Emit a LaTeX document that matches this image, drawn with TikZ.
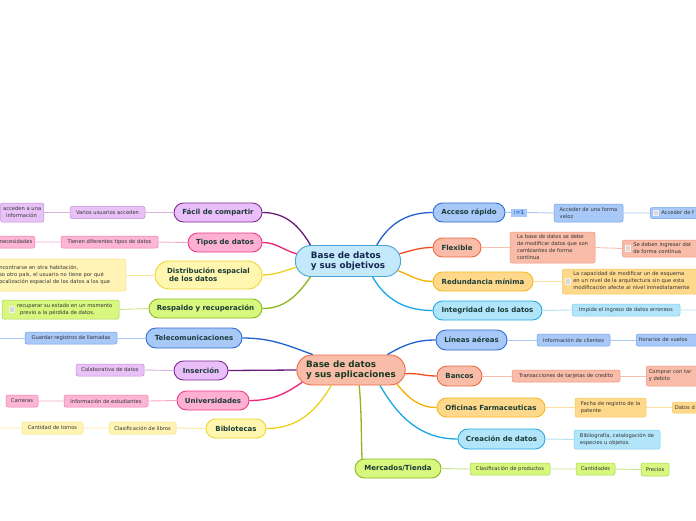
\documentclass[tikz,border=0pt]{standalone}
\usepackage{fontspec}
\setmainfont{DejaVu Sans}
\usepackage{tikz}
\usetikzlibrary{shapes.misc,positioning}
% colour families: F fill, B border, L main line, HF/HB/HL leaves
\definecolor{lilaF}{HTML}{E9BEF9}\definecolor{lilaB}{HTML}{7B2D8E}\definecolor{lilaL}{HTML}{6A1B7A}
\definecolor{lilaHF}{HTML}{E8C2F7}\definecolor{lilaHB}{HTML}{C48AD9}\definecolor{lilaHL}{HTML}{D6B2E2}
\definecolor{rosaF}{HTML}{FDB0D2}\definecolor{rosaB}{HTML}{EE3B8C}\definecolor{rosaL}{HTML}{F0207A}
\definecolor{rosaHF}{HTML}{FCB6D4}\definecolor{rosaHB}{HTML}{F07CB0}\definecolor{rosaHL}{HTML}{F8AACB}
\definecolor{amarF}{HTML}{FFF6B0}\definecolor{amarB}{HTML}{F0D52E}\definecolor{amarL}{HTML}{EDD11C}
\definecolor{amarHF}{HTML}{FFF4B5}\definecolor{amarHB}{HTML}{F3DE78}\definecolor{amarHL}{HTML}{F7EA9E}
\definecolor{verdeF}{HTML}{D7F77E}\definecolor{verdeB}{HTML}{8CB922}\definecolor{verdeL}{HTML}{8BB61C}
\definecolor{verdeHF}{HTML}{D7F77E}\definecolor{verdeHB}{HTML}{A9D34C}\definecolor{verdeHL}{HTML}{C8E58A}
\definecolor{azulF}{HTML}{A8C9F8}\definecolor{azulB}{HTML}{2E6DD3}\definecolor{azulL}{HTML}{1F62CF}
\definecolor{azulHF}{HTML}{A8C9F8}\definecolor{azulHB}{HTML}{6F9FE8}\definecolor{azulHL}{HTML}{A9C7F3}
\definecolor{salmF}{HTML}{F8BCA8}\definecolor{salmB}{HTML}{EE6A44}\definecolor{salmL}{HTML}{EE4D20}
\definecolor{salmHF}{HTML}{F8BCA8}\definecolor{salmHB}{HTML}{F09478}\definecolor{salmHL}{HTML}{F6C0AE}
\definecolor{naraF}{HTML}{FFD98B}\definecolor{naraB}{HTML}{F5B71A}\definecolor{naraL}{HTML}{F5B000}
\definecolor{naraHF}{HTML}{FFD98B}\definecolor{naraHB}{HTML}{F6C956}\definecolor{naraHL}{HTML}{FDDFA0}
\definecolor{cianF}{HTML}{B2E5FA}\definecolor{cianB}{HTML}{27A9E3}\definecolor{cianL}{HTML}{1AA6E6}
\definecolor{cianHF}{HTML}{B2E5FA}\definecolor{cianHB}{HTML}{7FCCEE}\definecolor{cianHL}{HTML}{B7E2F5}
\definecolor{objF}{HTML}{C3E9FB}\definecolor{objB}{HTML}{4DA3D8}\definecolor{objT}{HTML}{17264F}
\definecolor{aplT}{HTML}{183A22}
\definecolor{ramatexto}{HTML}{1B3B36}
\definecolor{hojatexto}{HTML}{333333}
\definecolor{casborde}{HTML}{F2F2F2}
\definecolor{casfondo}{HTML}{D9D9D9}
\newcommand{\centrofont}{\fontsize{8.8}{10.5}\selectfont\bfseries}
\newcommand{\ramafont}{\fontsize{7}{8}\selectfont\bfseries}
\newcommand{\hojafont}{\fontsize{5.2}{7}\selectfont}
\newcommand{\casilla}{\raisebox{-1.2pt}{\setlength{\fboxsep}{0pt}\setlength{\fboxrule}{0.5pt}\fcolorbox{casborde}{casfondo}{\rule{0pt}{5pt}\rule{5pt}{0pt}}}}
\newcommand{\conicono}[1]{\casilla\hspace{2.5pt}\begin{tabular}{@{}l@{}}#1\end{tabular}}

\begin{document}
\begin{tikzpicture}[
      x=1pt,y=1pt,
      centro/.style={rounded rectangle,draw=objB,line width=0.9pt,font=\centrofont,align=left,minimum height=31pt},
      rama/.style={rounded rectangle,draw=#1B,fill=#1F,line width=0.9pt,minimum height=19pt,inner xsep=3pt,font=\ramafont,text=ramatexto},
      hoja/.style={rectangle,rounded corners=2pt,draw=#1HB,fill=#1HF,line width=0.5pt,inner xsep=2.5pt,inner ysep=1.5pt,minimum height=12pt,font=\hojafont,text=hojatexto,align=left},
      enlace/.style={line width=1.3pt,draw=#1L},
      fino/.style={line width=0.9pt,draw=#1HL}
    ]
    \fill[white] (0,0) rectangle (696,-520);
    \useasboundingbox (0,0) rectangle (696,-520);
    % Draw the two central topics.
    \node[centro,fill=objF,text=objT,minimum width=112pt] (obj) at (348,-261) {Base de datos\\y sus objetivos};
    \node[centro,draw=salmB,fill=salmF,text=aplT,minimum width=115pt,minimum height=30pt] (apl) at (351,-370) {Base de datos\\y sus aplicaciones};
    % Draw the branches of the first topic.
    \node[rama=lila,minimum width=94pt] (fac) at (218,-212.5) {Fácil de compartir};
    \node[rama=rosa,minimum width=80pt] (tip) at (225,-242.5) {Tipos de datos};
    \node[rama=amar,minimum width=113pt,minimum height=28pt,align=left] (dis) at (208.5,-275) {Distribución espacial\\\hspace{2pt}de los datos};
    \node[rama=verde,minimum width=119pt] (res) at (205.5,-308.5) {Respaldo y recuperación};
    \node[rama=azul,minimum width=78pt] (acc) at (469,-212.5) {Acceso rápido};
    \node[rama=salm,minimum width=54pt] (fle) at (457,-247.5) {Flexible};
    \node[rama=nara,minimum width=106pt] (red) at (483,-281.5) {Redundancia mínima};
    \node[rama=cian,minimum width=115pt] (int) at (487.5,-310.5) {Integridad de los datos};
    % Draw the branches of the second topic.
    \node[rama=azul,minimum width=102pt,minimum height=20pt] (tel) at (194,-338) {Telecomunicaciones};
    \node[rama=lila,minimum width=60pt] (ins) at (201,-370.5) {Inserción};
    \node[rama=rosa,minimum width=78pt] (uni) at (213,-400.5) {Universidades};
    \node[rama=amar,minimum width=66pt] (bib) at (236,-428.5) {Biblotecas};
    \node[rama=azul,minimum width=77pt,minimum height=20pt] (lin) at (471.5,-340) {Líneas aéreas};
    \node[rama=salm,minimum width=51pt,minimum height=20pt] (ban) at (459.5,-376) {Bancos};
    \node[rama=nara,minimum width=114pt] (ofi) at (491,-407.5) {Oficinas Farmaceuticas};
    \node[rama=cian,minimum width=93pt,minimum height=20pt] (cre) at (501.5,-439) {Creación de datos};
    \node[rama=verde,minimum width=92pt] (mer) at (398,-468.5) {Mercados/Tienda};
    % Draw the leaves on the left.
    \node[hoja=lila,minimum width=75pt] (fac1) at (107.5,-212.5) {Varios usuarios acceden};
    \node[hoja=lila,anchor=east,minimum height=19pt] (fac2) at (44,-212.5) {acceden a una\\\hspace{3pt}información};
    \node[hoja=rosa,minimum width=97pt] (tip1) at (109.5,-242) {Tienen diferentes tipos de datos};
    \node[hoja=rosa,anchor=east] (tip2) at (35,-242) {necesidades};
    \node[hoja=amar,anchor=east,text width=124pt,minimum height=32pt] (dis1) at (126,-275) {ncontrarse en otra habitación,\\so otro país, el usuario no tiene por qué\\ocalización espacial de los datos a los que};
    \node[hoja=verde,minimum width=117pt,minimum height=19pt] (res1) at (60.5,-309.5) {\conicono{recuperar su estado en un momento\\\hspace{3pt}previo a la pérdida de datos.}};
    \node[hoja=azul,minimum width=92pt] (tel1) at (71,-338) {Guardar registros de llamadas};
    \node[hoja=lila,minimum width=68pt] (ins1) at (110,-370) {Colaborativa de datos};
    \node[hoja=rosa,minimum width=84pt] (uni1) at (106,-401) {Información de estudiantes};
    \node[hoja=rosa,minimum width=32pt] (uni2) at (22,-401) {Carreras};
    \node[hoja=amar,minimum width=67pt] (bib1) at (142.5,-428) {Clasificación de libros};
    \node[hoja=amar,minimum width=61pt] (bib2) at (52.5,-428) {Cantidad de tomos};
    \coordinate (telfin) at (0,-338);
    \coordinate (bibfin) at (0,-428);
    % Draw the leaves on the right.
    \node[rectangle,fill=azulF,text=azulB,font=\fontsize{5.5}{6}\selectfont\bfseries,inner sep=1pt,minimum width=16pt,minimum height=8pt] (acc0) at (519,-212.5) {:=1};
    \node[hoja=azul,minimum width=69pt,minimum height=18pt] (acc1) at (588.5,-213) {Acceder de una forma\\veloz};
    \node[hoja=azul,anchor=west,text width=60pt,minimum height=11pt] (acc2) at (650,-213) {\conicono{Acceder de f}};
    \node[hoja=salm,minimum width=85pt,minimum height=31pt] (fle1) at (552.5,-247.5) {La base de datos se debe\\de modificar datos que son\\cambiantes de forma\\continua};
    \node[hoja=salm,anchor=west,text width=80pt,minimum height=17pt] (fle2) at (622,-248.5) {\conicono{Se deben ingresar dat\\de forma continua}};
    \node[hoja=nara,anchor=west,text width=140pt,minimum height=25pt] (red1) at (562,-281.5) {\conicono{La capacidad de modificar un de esquema\\en un nivel de la arquitectura sin que esta\\modificación afecte al nivel inmediatamente}};
    \node[hoja=cian,minimum width=108pt] (int1) at (626,-310) {Impide el ingreso de datos erroneos};
    \coordinate (intfin) at (696,-310);
    \node[hoja=azul,minimum width=73pt] (lin1) at (573.5,-340) {Información de clientes};
    \node[hoja=azul,anchor=west,text width=62pt] (lin2) at (636,-340) {Horarios de vuelos};
    \node[hoja=salm,minimum width=108pt] (ban1) at (566,-376) {Transacciones de tarjetas de credito};
    \node[hoja=salm,anchor=west,text width=56pt,minimum height=20pt] (ban2) at (646,-376) {Comprar con tar\\y debito};
    \node[hoja=nara,minimum width=71pt,minimum height=19pt] (ofi1) at (610.5,-407.5) {Fecha de registro de la\\patente};
    \node[hoja=nara,anchor=west,text width=28pt,minimum height=11pt] (ofi2) at (672,-407.5) {Datos d};
    \node[hoja=cian,minimum width=86pt,minimum height=19pt] (cre1) at (617,-439.5) {Bibliografía, catalogación de\\especies u objetos.};
    \node[hoja=verde,minimum width=80pt] (mer1) at (510,-469) {Clasificación de productos};
    \node[hoja=verde,minimum width=39pt] (mer2) at (595.5,-469) {Cantidades};
    \node[hoja=verde,minimum width=28pt,minimum height=13pt] (mer3) at (655,-469.5) {Precios};
    % Draw the main connectors.
    \draw[enlace=lila] (fac.east) to[out=0,in=120] (obj.157);
    \draw[enlace=rosa] (tip.east) to[out=0,in=165] (obj.172);
    \draw[enlace=amar] (dis.east) to[out=0,in=195] (obj.187);
    \draw[enlace=verde] (res.east) to[out=0,in=235] (obj.203);
    \draw[enlace=azul] (acc.west) to[out=180,in=60] (obj.29);
    \draw[enlace=salm] (fle.west) to[out=180,in=15] (obj.8);
    \draw[enlace=nara] (red.west) to[out=180,in=-20] (obj.349);
    \draw[enlace=cian] (int.west) to[out=180,in=-60] (obj.327);
    \draw[enlace=azul] (tel.east) to[out=0,in=160] (apl.158);
    \draw[enlace=lila] (ins.east) -- (apl.west);
    \draw[enlace=rosa] (uni.east) to[out=0,in=215] (apl.194);
    \draw[enlace=amar] (bib.east) to[out=0,in=240] (apl.218);
    \draw[enlace=verde] (mer.165) to[out=92,in=-85] (apl.298);
    \draw[enlace=azul] (lin.west) to[out=180,in=30] (apl.23);
    \draw[enlace=salm] (ban.west) to[out=180,in=5] (apl.356);
    \draw[enlace=nara] (ofi.west) to[out=180,in=-50] (apl.343);
    \draw[enlace=cian] (cre.west) to[out=180,in=-60] (apl.332);
    % Draw the leaf connectors.
    \draw[fino=lila] (fac.west) -- (fac1.east) (fac1.west) -- (fac2.east);
    \draw[fino=rosa] (tip.west) -- (tip1.east) (tip1.west) -- (tip2.east);
    \draw[fino=amar] (dis.west) -- (dis1.east);
    \draw[fino=verde] (res.west) -- (res1.east);
    \draw[fino=azul] (tel.west) -- (tel1.east) (tel1.west) -- (telfin);
    \draw[fino=lila] (ins.west) -- (ins1.east);
    \draw[fino=rosa] (uni.west) -- (uni1.east) (uni1.west) -- (uni2.east);
    \draw[fino=amar] (bib.west) -- (bib1.east) (bib1.west) -- (bib2.east) (bib2.west) -- (bibfin);
    \draw[fino=azul] (acc.east) -- (acc0.west) (acc0.east) -- (acc1.west) (acc1.east) -- (acc2.west);
    \draw[fino=salm] (fle.east) -- (fle1.west) (fle1.east) -- (fle2.west);
    \draw[fino=nara] (red.east) -- (red1.west);
    \draw[fino=cian] (int.east) -- (int1.west) (int1.east) -- (intfin);
    \draw[fino=azul] (lin.east) -- (lin1.west) (lin1.east) -- (lin2.west);
    \draw[fino=salm] (ban.east) -- (ban1.west) (ban1.east) -- (ban2.west);
    \draw[fino=nara] (ofi.east) -- (ofi1.west) (ofi1.east) -- (ofi2.west);
    \draw[fino=cian] (cre.east) -- (cre1.west);
    \draw[fino=verde] (mer.east) -- (mer1.west) (mer1.east) -- (mer2.west) (mer2.east) -- (mer3.west);
\end{tikzpicture}
\end{document}
